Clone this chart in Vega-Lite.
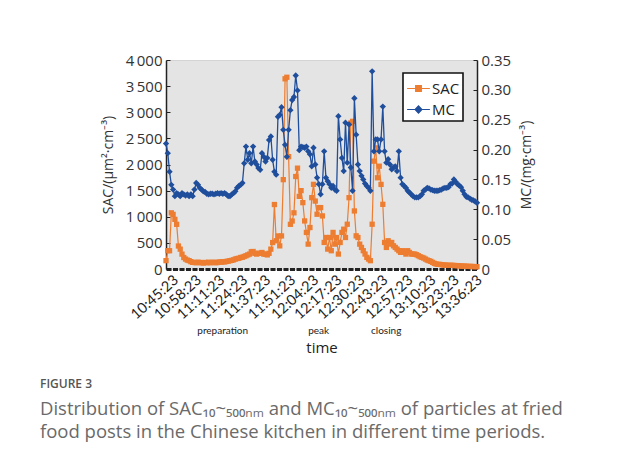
{
  "$schema": "https://vega.github.io/schema/vega-lite/v6.json",
  "width": 311,
  "height": 209,
  "autosize": {"type": "none"},
  "padding": {"left": 166, "top": 60, "right": 140, "bottom": 197},
  "background": "white",
  "config": {
    "view": {"fill": "#e4e4e4", "stroke": "#d4d4d4"},
    "font": "Open Sans"
  },
  "title": {
    "text": "FIGURE 3",
    "subtitle": ["Distribution of SAC₁₀~₅₀₀ₙₘ and MC₁₀~₅₀₀ₙₘ of particles at fried", "food posts in the Chinese kitchen in different time periods."],
    "orient": "bottom",
    "anchor": "start",
    "frame": "group",
    "dx": -126,
    "offset": 24,
    "font": "Open Sans",
    "fontSize": 12,
    "fontWeight": 600,
    "color": "#555555",
    "subtitleFont": "Open Sans",
    "subtitleFontSize": 18.5,
    "subtitleColor": "#6a6a6a",
    "subtitlePadding": 9,
    "subtitleLineHeight": 23
  },
  "data": {
    "format": {"parse": {"t": "date:'%H:%M:%S'"}},
    "values": [
      {"t":"10:45:23","SAC":160,"MC":0.21},
      {"t":"10:46:23","SAC":350,"MC":0.194},
      {"t":"10:47:23","SAC":350,"MC":0.163},
      {"t":"10:48:23","SAC":1075,"MC":0.141},
      {"t":"10:49:23","SAC":1045,"MC":0.133},
      {"t":"10:50:23","SAC":950,"MC":0.122},
      {"t":"10:51:23","SAC":855,"MC":0.127},
      {"t":"10:52:23","SAC":440,"MC":0.125},
      {"t":"10:53:23","SAC":380,"MC":0.122},
      {"t":"10:54:23","SAC":285,"MC":0.127},
      {"t":"10:55:23","SAC":220,"MC":0.125},
      {"t":"10:56:23","SAC":190,"MC":0.123},
      {"t":"10:57:23","SAC":170,"MC":0.125},
      {"t":"10:58:23","SAC":160,"MC":0.122},
      {"t":"10:59:23","SAC":140,"MC":0.125},
      {"t":"11:00:23","SAC":127,"MC":0.122},
      {"t":"11:01:23","SAC":125,"MC":0.133},
      {"t":"11:02:23","SAC":120,"MC":0.144},
      {"t":"11:03:23","SAC":130,"MC":0.141},
      {"t":"11:04:23","SAC":125,"MC":0.136},
      {"t":"11:05:23","SAC":120,"MC":0.133},
      {"t":"11:06:23","SAC":115,"MC":0.130},
      {"t":"11:07:23","SAC":125,"MC":0.129},
      {"t":"11:08:23","SAC":120,"MC":0.126},
      {"t":"11:09:23","SAC":130,"MC":0.125},
      {"t":"11:10:23","SAC":120,"MC":0.126},
      {"t":"11:11:23","SAC":125,"MC":0.126},
      {"t":"11:12:23","SAC":130,"MC":0.125},
      {"t":"11:13:23","SAC":120,"MC":0.126},
      {"t":"11:14:23","SAC":125,"MC":0.127},
      {"t":"11:15:23","SAC":135,"MC":0.126},
      {"t":"11:16:23","SAC":130,"MC":0.127},
      {"t":"11:17:23","SAC":140,"MC":0.126},
      {"t":"11:18:23","SAC":135,"MC":0.127},
      {"t":"11:19:23","SAC":145,"MC":0.125},
      {"t":"11:20:23","SAC":150,"MC":0.122},
      {"t":"11:21:23","SAC":160,"MC":0.122},
      {"t":"11:22:23","SAC":165,"MC":0.125},
      {"t":"11:23:23","SAC":175,"MC":0.127},
      {"t":"11:24:23","SAC":190,"MC":0.130},
      {"t":"11:25:23","SAC":200,"MC":0.136},
      {"t":"11:26:23","SAC":205,"MC":0.139},
      {"t":"11:27:23","SAC":220,"MC":0.141},
      {"t":"11:28:23","SAC":225,"MC":0.144},
      {"t":"11:29:23","SAC":240,"MC":0.177},
      {"t":"11:30:23","SAC":253,"MC":0.205},
      {"t":"11:31:23","SAC":270,"MC":0.183},
      {"t":"11:32:23","SAC":285,"MC":0.194},
      {"t":"11:33:23","SAC":330,"MC":0.177},
      {"t":"11:34:23","SAC":335,"MC":0.205},
      {"t":"11:35:23","SAC":300,"MC":0.180},
      {"t":"11:36:23","SAC":285,"MC":0.175},
      {"t":"11:37:23","SAC":300,"MC":0.169},
      {"t":"11:38:23","SAC":300,"MC":0.166},
      {"t":"11:39:23","SAC":316,"MC":0.194},
      {"t":"11:40:23","SAC":285,"MC":0.188},
      {"t":"11:41:23","SAC":285,"MC":0.180},
      {"t":"11:42:23","SAC":270,"MC":0.186},
      {"t":"11:43:23","SAC":300,"MC":0.216},
      {"t":"11:44:23","SAC":380,"MC":0.222},
      {"t":"11:45:23","SAC":506,"MC":0.183},
      {"t":"11:46:23","SAC":1234,"MC":0.163},
      {"t":"11:47:23","SAC":540,"MC":0.158},
      {"t":"11:48:23","SAC":633,"MC":0.255},
      {"t":"11:49:23","SAC":443,"MC":0.258},
      {"t":"11:50:23","SAC":633,"MC":0.271},
      {"t":"11:51:23","SAC":1710,"MC":0.233},
      {"t":"11:52:23","SAC":3640,"MC":0.208},
      {"t":"11:53:23","SAC":3670,"MC":0.188},
      {"t":"11:54:23","SAC":2150,"MC":0.233},
      {"t":"11:55:23","SAC":855,"MC":0.266},
      {"t":"11:56:23","SAC":918,"MC":0.283},
      {"t":"11:57:23","SAC":1075,"MC":0.288},
      {"t":"11:58:23","SAC":1770,"MC":0.324},
      {"t":"11:59:23","SAC":1930,"MC":0.299},
      {"t":"12:00:23","SAC":1390,"MC":0.199},
      {"t":"12:01:23","SAC":1500,"MC":0.205},
      {"t":"12:02:23","SAC":1270,"MC":0.204},
      {"t":"12:03:23","SAC":920,"MC":0.203},
      {"t":"12:04:23","SAC":700,"MC":0.205},
      {"t":"12:05:23","SAC":476,"MC":0.197},
      {"t":"12:06:23","SAC":794,"MC":0.192},
      {"t":"12:07:23","SAC":1365,"MC":0.172},
      {"t":"12:08:23","SAC":1620,"MC":0.203},
      {"t":"12:09:23","SAC":1300,"MC":0.175},
      {"t":"12:10:23","SAC":1048,"MC":0.153},
      {"t":"12:11:23","SAC":1175,"MC":0.142},
      {"t":"12:12:23","SAC":1175,"MC":0.125},
      {"t":"12:13:23","SAC":1016,"MC":0.142},
      {"t":"12:14:23","SAC":508,"MC":0.197},
      {"t":"12:15:23","SAC":603,"MC":0.153},
      {"t":"12:16:23","SAC":381,"MC":0.147},
      {"t":"12:17:23","SAC":603,"MC":0.142},
      {"t":"12:18:23","SAC":350,"MC":0.136},
      {"t":"12:19:23","SAC":700,"MC":0.139},
      {"t":"12:20:23","SAC":476,"MC":0.133},
      {"t":"12:21:23","SAC":603,"MC":0.131},
      {"t":"12:22:23","SAC":286,"MC":0.256},
      {"t":"12:23:23","SAC":508,"MC":0.217},
      {"t":"12:24:23","SAC":700,"MC":0.186},
      {"t":"12:25:23","SAC":762,"MC":0.164},
      {"t":"12:26:23","SAC":603,"MC":0.245},
      {"t":"12:27:23","SAC":857,"MC":0.178},
      {"t":"12:28:23","SAC":1365,"MC":0.242},
      {"t":"12:29:23","SAC":2794,"MC":0.170},
      {"t":"12:30:23","SAC":2826,"MC":0.131},
      {"t":"12:31:23","SAC":1111,"MC":0.286},
      {"t":"12:32:23","SAC":635,"MC":0.225},
      {"t":"12:33:23","SAC":603,"MC":0.175},
      {"t":"12:34:23","SAC":476,"MC":0.164},
      {"t":"12:35:23","SAC":413,"MC":0.156},
      {"t":"12:36:23","SAC":350,"MC":0.150},
      {"t":"12:37:23","SAC":286,"MC":0.143},
      {"t":"12:38:23","SAC":222,"MC":0.139},
      {"t":"12:39:23","SAC":190,"MC":0.136},
      {"t":"12:40:23","SAC":159,"MC":0.131},
      {"t":"12:41:23","SAC":857,"MC":0.331},
      {"t":"12:42:23","SAC":2064,"MC":0.197},
      {"t":"12:43:23","SAC":2318,"MC":0.217},
      {"t":"12:44:23","SAC":1746,"MC":0.217},
      {"t":"12:45:23","SAC":1968,"MC":0.197},
      {"t":"12:46:23","SAC":1619,"MC":0.217},
      {"t":"12:47:23","SAC":1238,"MC":0.272},
      {"t":"12:48:23","SAC":508,"MC":0.197},
      {"t":"12:49:23","SAC":413,"MC":0.178},
      {"t":"12:50:23","SAC":540,"MC":0.184},
      {"t":"12:51:23","SAC":476,"MC":0.175},
      {"t":"12:52:23","SAC":508,"MC":0.167},
      {"t":"12:53:23","SAC":444,"MC":0.170},
      {"t":"12:54:23","SAC":413,"MC":0.172},
      {"t":"12:55:23","SAC":381,"MC":0.164},
      {"t":"12:56:23","SAC":350,"MC":0.197},
      {"t":"12:57:23","SAC":318,"MC":0.153},
      {"t":"12:58:23","SAC":350,"MC":0.142},
      {"t":"12:59:23","SAC":318,"MC":0.139},
      {"t":"13:00:23","SAC":286,"MC":0.136},
      {"t":"13:01:23","SAC":350,"MC":0.131},
      {"t":"13:02:23","SAC":318,"MC":0.128},
      {"t":"13:03:23","SAC":286,"MC":0.125},
      {"t":"13:04:23","SAC":286,"MC":0.122},
      {"t":"13:05:23","SAC":286,"MC":0.120},
      {"t":"13:06:23","SAC":273,"MC":0.120},
      {"t":"13:07:23","SAC":254,"MC":0.120},
      {"t":"13:08:23","SAC":235,"MC":0.122},
      {"t":"13:09:23","SAC":222,"MC":0.125},
      {"t":"13:10:23","SAC":210,"MC":0.131},
      {"t":"13:11:23","SAC":190,"MC":0.133},
      {"t":"13:12:23","SAC":171,"MC":0.136},
      {"t":"13:13:23","SAC":159,"MC":0.135},
      {"t":"13:14:23","SAC":146,"MC":0.133},
      {"t":"13:15:23","SAC":127,"MC":0.132},
      {"t":"13:16:23","SAC":108,"MC":0.131},
      {"t":"13:17:23","SAC":95,"MC":0.131},
      {"t":"13:18:23","SAC":89,"MC":0.131},
      {"t":"13:19:23","SAC":89,"MC":0.132},
      {"t":"13:20:23","SAC":83,"MC":0.133},
      {"t":"13:21:23","SAC":76,"MC":0.135},
      {"t":"13:22:23","SAC":76,"MC":0.136},
      {"t":"13:23:23","SAC":72,"MC":0.136},
      {"t":"13:24:23","SAC":70,"MC":0.137},
      {"t":"13:25:23","SAC":70,"MC":0.142},
      {"t":"13:26:23","SAC":70,"MC":0.143},
      {"t":"13:27:23","SAC":68,"MC":0.150},
      {"t":"13:28:23","SAC":65,"MC":0.146},
      {"t":"13:29:23","SAC":65,"MC":0.142},
      {"t":"13:30:23","SAC":62,"MC":0.140},
      {"t":"13:31:23","SAC":57,"MC":0.137},
      {"t":"13:32:23","SAC":55,"MC":0.131},
      {"t":"13:33:23","SAC":55,"MC":0.125},
      {"t":"13:34:23","SAC":52,"MC":0.121},
      {"t":"13:35:23","SAC":50,"MC":0.120},
      {"t":"13:36:23","SAC":50,"MC":0.118},
      {"t":"13:37:23","SAC":48,"MC":0.116},
      {"t":"13:38:23","SAC":48,"MC":0.115},
      {"t":"13:39:23","SAC":45,"MC":0.113},
      {"t":"13:40:23","SAC":45,"MC":0.111}
    ]
  },
  "layer": [
    {
      "mark": {"type": "line", "strokeWidth": 1.2, "point": {"shape": "square", "filled": true, "size": 28}},
      "encoding": {
        "x": {
          "field": "t", "type": "temporal", "scale": {"nice": false},
          "axis": {
            "orient": "bottom",
            "title": null,
            "format": "%H:%M:%S",
            "values": [
              {"year":1900,"month":1,"date":1,"hours":10,"minutes":45,"seconds":23},
              {"year":1900,"month":1,"date":1,"hours":10,"minutes":58,"seconds":23},
              {"year":1900,"month":1,"date":1,"hours":11,"minutes":11,"seconds":23},
              {"year":1900,"month":1,"date":1,"hours":11,"minutes":24,"seconds":23},
              {"year":1900,"month":1,"date":1,"hours":11,"minutes":37,"seconds":23},
              {"year":1900,"month":1,"date":1,"hours":11,"minutes":51,"seconds":23},
              {"year":1900,"month":1,"date":1,"hours":12,"minutes":4,"seconds":23},
              {"year":1900,"month":1,"date":1,"hours":12,"minutes":17,"seconds":23},
              {"year":1900,"month":1,"date":1,"hours":12,"minutes":30,"seconds":23},
              {"year":1900,"month":1,"date":1,"hours":12,"minutes":43,"seconds":23},
              {"year":1900,"month":1,"date":1,"hours":12,"minutes":57,"seconds":23},
              {"year":1900,"month":1,"date":1,"hours":13,"minutes":10,"seconds":23},
              {"year":1900,"month":1,"date":1,"hours":13,"minutes":23,"seconds":23},
              {"year":1900,"month":1,"date":1,"hours":13,"minutes":36,"seconds":23}
            ],
            "labelAngle": -42,
            "labelAlign": "right",
            "labelBaseline": "middle",
            "labelFont": "Lato",
            "labelFontSize": 14.5,
            "labelColor": "#222222",
            "labelPadding": 9,
            "labelOffset": 10,
            "labelOverlap": false,
            "labelBound": false,
            "labelFlush": false,
            "ticks": false,
            "grid": false,
            "domainColor": "#222222",
            "domainWidth": 3,
            "domainDash": [5, 1.5]
          }
        },
        "y": {
          "field": "SAC", "type": "quantitative",
          "scale": {"domain": [0, 4000], "nice": false},
          "axis": {
            "orient": "left",
            "title": "SAC/(μm²·cm⁻³)",
            "titleFont": "Open Sans",
            "titleFontSize": 14,
            "titleFontWeight": "normal",
            "titleColor": "#333333",
            "titlePadding": 10,
            "values": [0, 500, 1000, 1500, 2000, 2500, 3000, 3500, 4000],
            "labelExpr": "replace(format(datum.value, ','), ',', '\u2009')",
            "labelFont": "Open Sans",
            "labelFontSize": 15,
            "labelColor": "#333333",
            "tickSize": -4,
            "tickColor": "#222222",
            "labelPadding": 8,
            "grid": false,
            "domainColor": "#222222",
            "domainWidth": 1.5
          }
        },
        "color": {
          "datum": "SAC", "type": "nominal",
          "scale": {"domain": ["SAC", "MC"], "range": ["#ED7D31", "#1F4E9C"]},
          "legend": {
            "orient": "none", "legendX": 237, "legendY": 13,
            "title": null, "fillColor": "white", "strokeColor": "#111111",
            "padding": 3, "symbolSize": 520, "symbolStrokeWidth": 1.2,
            "labelFont": "Open Sans", "labelFontSize": 15, "labelColor": "#222222",
            "labelOffset": 1, "rowPadding": -3,
            "encode": {
              "legend": {"update": {"strokeWidth": {"value": 1.6}}},
              "symbols": {"update": {
                "shape": {"signal": "datum.value === 'SAC' ? 'M-1,0H1M-0.25,-0.25H0.25V0.25H-0.25Z' : 'M-1,0H1M0,-0.32L0.3,0L0,0.32L-0.3,0Z'"},
                "fill": {"signal": "datum.value === 'SAC' ? '#ED7D31' : '#1F4E9C'"},
                "stroke": {"signal": "datum.value === 'SAC' ? '#ED7D31' : '#1F4E9C'"},
                "strokeWidth": {"value": 1.2}
              }}
            }
          }
        }
      }
    },
    {
      "mark": {"type": "line", "strokeWidth": 1.3, "point": {"shape": "diamond", "filled": true, "size": 40}},
      "encoding": {
        "x": {
          "field": "t", "type": "temporal", "scale": {"nice": false},
          "axis": {
            "orient": "bottom",
            "title": "time",
            "titleFont": "Open Sans",
            "titleFontSize": 15,
            "titleFontWeight": "normal",
            "titleColor": "#222222",
            "titlePadding": 5,
            "values": [
              {"year":1900,"month":1,"date":1,"hours":11,"minutes":17,"seconds":0},
              {"year":1900,"month":1,"date":1,"hours":12,"minutes":11,"seconds":0},
              {"year":1900,"month":1,"date":1,"hours":12,"minutes":49,"seconds":0}
            ],
            "labelExpr": "hours(datum.value) == 11 ? 'preparation' : (minutes(datum.value) == 11 ? 'peak' : 'closing')",
            "labelFont": "Lato",
            "labelFontSize": 10,
            "labelColor": "#222222",
            "labelAngle": 0,
            "labelPadding": 56,
            "ticks": false,
            "domain": false,
            "grid": false
          }
        },
        "y": {
          "field": "MC", "type": "quantitative",
          "scale": {"domain": [0, 0.35], "nice": false},
          "axis": {
            "orient": "right",
            "title": "MC/(mg·cm⁻³)",
            "titleAngle": 270,
            "titleFont": "Open Sans",
            "titleFontSize": 14,
            "titleFontWeight": "normal",
            "titleColor": "#333333",
            "titlePadding": 23,
            "values": [0, 0.05, 0.1, 0.15, 0.2, 0.25, 0.3, 0.35],
            "labelExpr": "datum.value == 0 ? '0' : format(datum.value, '.2f')",
            "labelFont": "Open Sans",
            "labelFontSize": 15,
            "labelColor": "#333333",
            "tickSize": -4,
            "tickColor": "#222222",
            "labelPadding": 8,
            "grid": false,
            "domainColor": "#222222",
            "domainWidth": 1.5
          }
        },
        "color": {
          "datum": "MC", "type": "nominal",
          "scale": {"domain": ["SAC", "MC"], "range": ["#ED7D31", "#1F4E9C"]}
        }
      }
    }
  ],
  "resolve": {"scale": {"y": "independent"}, "axis": {"x": "independent"}}
}
